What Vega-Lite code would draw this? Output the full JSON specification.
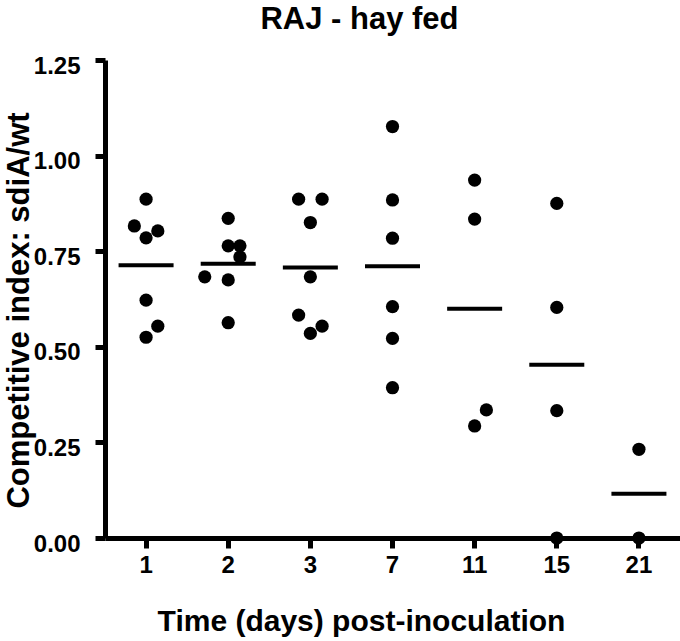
{
  "$schema": "https://vega.github.io/schema/vega-lite/v6.json",
  "width": 575,
  "height": 478,
  "autosize": {"type": "none"},
  "padding": {"left": 105, "top": 60, "right": 0, "bottom": 103},
  "background": "white",
  "title": {
    "text": "RAJ - hay fed",
    "font": "Liberation Sans",
    "fontSize": 31,
    "fontWeight": "bold",
    "color": "black",
    "anchor": "middle",
    "frame": "group",
    "dx": -33,
    "baseline": "alphabetic",
    "offset": -6
  },
  "config": {
    "view": {"stroke": null},
    "axis": {
      "grid": false,
      "domainColor": "black",
      "domainWidth": 5,
      "tickColor": "black",
      "tickWidth": 5,
      "tickSize": 10,
      "labelFont": "Liberation Sans",
      "labelFontWeight": "bold",
      "labelFontSize": 24,
      "labelColor": "black",
      "titleFont": "Liberation Sans",
      "titleFontWeight": "bold",
      "titleFontSize": 30,
      "titleColor": "black",
      "labelFlush": false
    }
  },
  "data": {
    "values": [
      {"day": 1, "ci": 0.886, "slot": 0},
      {"day": 1, "ci": 0.816, "slot": -1},
      {"day": 1, "ci": 0.803, "slot": 1},
      {"day": 1, "ci": 0.785, "slot": 0},
      {"day": 1, "ci": 0.622, "slot": 0},
      {"day": 1, "ci": 0.554, "slot": 1},
      {"day": 1, "ci": 0.525, "slot": 0},
      {"day": 2, "ci": 0.836, "slot": 0},
      {"day": 2, "ci": 0.764, "slot": 0},
      {"day": 2, "ci": 0.764, "slot": 1},
      {"day": 2, "ci": 0.735, "slot": 1},
      {"day": 2, "ci": 0.683, "slot": -2},
      {"day": 2, "ci": 0.675, "slot": 0},
      {"day": 2, "ci": 0.563, "slot": 0},
      {"day": 3, "ci": 0.886, "slot": -1},
      {"day": 3, "ci": 0.886, "slot": 1},
      {"day": 3, "ci": 0.825, "slot": 0},
      {"day": 3, "ci": 0.683, "slot": 0},
      {"day": 3, "ci": 0.583, "slot": -1},
      {"day": 3, "ci": 0.554, "slot": 1},
      {"day": 3, "ci": 0.535, "slot": 0},
      {"day": 7, "ci": 1.076, "slot": 0},
      {"day": 7, "ci": 0.884, "slot": 0},
      {"day": 7, "ci": 0.784, "slot": 0},
      {"day": 7, "ci": 0.605, "slot": 0},
      {"day": 7, "ci": 0.522, "slot": 0},
      {"day": 7, "ci": 0.393, "slot": 0},
      {"day": 11, "ci": 0.936, "slot": 0},
      {"day": 11, "ci": 0.834, "slot": 0},
      {"day": 11, "ci": 0.335, "slot": 1},
      {"day": 11, "ci": 0.293, "slot": 0},
      {"day": 15, "ci": 0.875, "slot": 0},
      {"day": 15, "ci": 0.603, "slot": 0},
      {"day": 15, "ci": 0.333, "slot": 0},
      {"day": 15, "ci": 0.0, "slot": 0},
      {"day": 21, "ci": 0.232, "slot": 0},
      {"day": 21, "ci": 0.0, "slot": 0}
    ]
  },
  "encoding": {
    "x": {
      "field": "day",
      "type": "ordinal",
      "scale": {"paddingInner": 0, "paddingOuter": 0},
      "axis": {
        "title": "Time (days) post-inoculation",
        "labelAngle": 0,
        "labelPadding": 5,
        "titleX": 256,
        "titleY": 92,
        "titleAnchor": null,
        "titleAlign": "center",
        "titleBaseline": "alphabetic"
      }
    },
    "y": {
      "field": "ci",
      "type": "quantitative",
      "scale": {"domain": [0, 1.25], "nice": false, "zero": true},
      "axis": {
        "title": "Competitive index: sdiA/wt",
        "values": [0, 0.25, 0.5, 0.75, 1.0, 1.25],
        "format": ".2f",
        "labelPadding": 15,
        "labelOffset": 6,
        "titleAngle": -90,
        "titleX": -77,
        "titleY": 250,
        "titleFontSize": 31,
        "titleAlign": "center",
        "titleBaseline": "alphabetic"
      }
    }
  },
  "layer": [
    {
      "mark": {"type": "circle", "size": 175, "color": "black", "opacity": 1},
      "encoding": {
        "xOffset": {"field": "slot", "type": "quantitative", "scale": {"domain": [-3.5, 3.5]}}
      }
    },
    {
      "mark": {"type": "tick", "color": "black", "size": 55, "thickness": 4, "orient": "horizontal", "opacity": 1},
      "encoding": {
        "y": {"aggregate": "mean", "field": "ci", "type": "quantitative"}
      }
    }
  ]
}
